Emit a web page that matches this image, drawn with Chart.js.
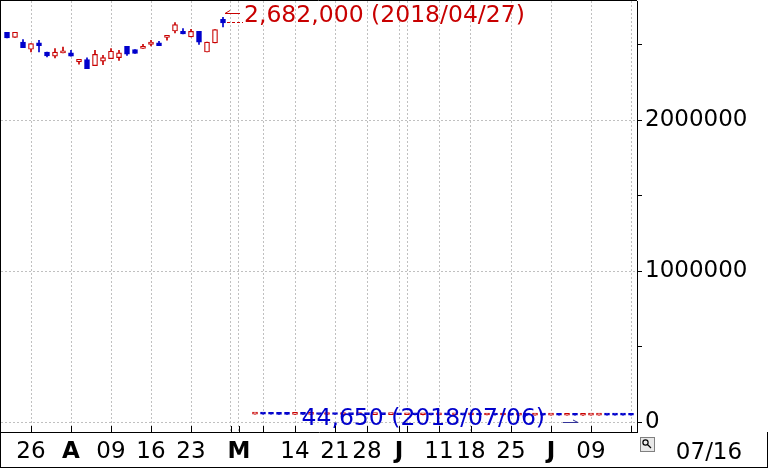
<!DOCTYPE html>
<html>
<head>
<meta charset="utf-8">
<script src="https://cdn.jsdelivr.net/npm/chart.js@4"></script>
<style>
  html, body { margin: 0; padding: 0; background: #fff; }
  #wrap { width: 768px; height: 470px; }
</style>
</head>
<body>
<div id="wrap"><canvas id="myChart" width="768" height="470"></canvas></div>
<script>
// trading-day slot of each candle (gap after 04/27)
const slots = [0, 1, 2, 3, 4, 5, 6, 7, 8, 9, 10, 11, 12, 13, 14, 15, 16, 17, 18, 19, 20, 21, 22, 23, 24, 25, 26, 27,
    31, 32, 33, 34, 35, 36, 37, 38, 39, 40, 41, 42, 43, 44, 45, 46, 47, 48, 49, 50, 51, 52, 53, 54, 55, 56, 57, 58,
    59, 60, 61, 62, 63, 64, 65, 66, 67, 68, 69, 70, 71, 72, 73, 74, 75, 76, 77, 78];

const dates = ['2018/03/20', '2018/03/22', '2018/03/23', '2018/03/26', '2018/03/27', '2018/03/28', '2018/03/29', '2018/03/30',
    '2018/04/02', '2018/04/03', '2018/04/04', '2018/04/05', '2018/04/06', '2018/04/09', '2018/04/10', '2018/04/11',
    '2018/04/12', '2018/04/13', '2018/04/16', '2018/04/17', '2018/04/18', '2018/04/19', '2018/04/20', '2018/04/23',
    '2018/04/24', '2018/04/25', '2018/04/26', '2018/04/27',
    '2018/05/10', '2018/05/11', '2018/05/14', '2018/05/15', '2018/05/16', '2018/05/17', '2018/05/18', '2018/05/21',
    '2018/05/22', '2018/05/23', '2018/05/24', '2018/05/25', '2018/05/28', '2018/05/29', '2018/05/30', '2018/05/31',
    '2018/06/01', '2018/06/04', '2018/06/05', '2018/06/06', '2018/06/07', '2018/06/08', '2018/06/11', '2018/06/12',
    '2018/06/13', '2018/06/14', '2018/06/15', '2018/06/18', '2018/06/19', '2018/06/20', '2018/06/21', '2018/06/22',
    '2018/06/25', '2018/06/26', '2018/06/27', '2018/06/28', '2018/06/29', '2018/07/02', '2018/07/03', '2018/07/04',
    '2018/07/05', '2018/07/06', '2018/07/09', '2018/07/10', '2018/07/11', '2018/07/12', '2018/07/13', '2018/07/16'];

const opens = [2583000, 2549000, 2518000, 2470000, 2512000, 2452000, 2424000, 2446000, 2446000, 2386000,
    2402000, 2362000, 2391000, 2408000, 2415000, 2490000, 2468000, 2475000, 2503000, 2512000,
    2548000, 2591000, 2589000, 2552000, 2589000, 2452000, 2512000, 2669000,
    52500, 53200, 52600, 51800, 51300, 50800, 51400, 50400, 50900, 50000, 50500, 49900, 50300, 49500,
    49800, 49300, 49600, 48800, 49200, 48600, 49000, 48200, 48600, 47800, 48200, 47400, 47800, 47100,
    47500, 46700, 47100, 46400, 46800, 46100, 46500, 45800, 46200, 45500, 45900, 45200, 45600, 45000,
    45300, 45800, 46100, 45800, 45400, 45300];
const highs = [2583000, 2583000, 2534000, 2508000, 2530000, 2452000, 2475000, 2485000, 2463000, 2404000,
    2413000, 2463000, 2430000, 2475000, 2463000, 2490000, 2468000, 2503000, 2530000, 2523000,
    2563000, 2647000, 2607000, 2603000, 2589000, 2518000, 2600000, 2682000,
    53800, 53900, 52900, 52400, 51900, 51700, 51600, 51200, 51100, 50700, 50800, 50600, 50500, 50100,
    50200, 49900, 49800, 49500, 49600, 49300, 49400, 48900, 48800, 48500, 48400, 48100, 48000, 47700,
    47600, 47400, 47300, 47000, 47000, 46700, 46600, 46400, 46300, 46100, 46000, 45800, 45700, 45500,
    46000, 46300, 46400, 46000, 45700, 45600];
const lows = [2545000, 2549000, 2481000, 2452000, 2452000, 2419000, 2413000, 2446000, 2424000, 2371000,
    2342000, 2362000, 2368000, 2408000, 2397000, 2430000, 2442000, 2475000, 2492000, 2494000,
    2530000, 2578000, 2572000, 2552000, 2503000, 2452000, 2512000, 2618000,
    51800, 52300, 51500, 51000, 50600, 50500, 50200, 50100, 49800, 49600, 49700, 49500, 49300, 49000,
    49100, 48800, 48600, 48500, 48400, 48200, 48000, 47800, 47600, 47400, 47200, 47000, 46900, 46700,
    46500, 46400, 46200, 46100, 45900, 45800, 45600, 45500, 45300, 45200, 45000, 44900, 44800, 44650,
    45100, 45500, 45600, 45200, 45000, 44900];
const closes = [2545000, 2583000, 2481000, 2508000, 2494000, 2426000, 2452000, 2459000, 2424000, 2404000,
    2342000, 2437000, 2415000, 2457000, 2446000, 2437000, 2442000, 2490000, 2518000, 2494000,
    2563000, 2633000, 2572000, 2589000, 2518000, 2518000, 2600000, 2644000,
    53200, 52600, 51800, 51300, 50800, 51400, 50400, 50900, 50000, 50500, 49900, 50300, 49500, 49800,
    49300, 49600, 48800, 49200, 48600, 49000, 48200, 48600, 47800, 48200, 47400, 47800, 47100, 47500,
    46700, 47100, 46400, 46800, 46100, 46500, 45800, 46200, 45500, 45900, 45200, 45600, 45000, 45300,
    45800, 46100, 45800, 45400, 45300, 45100];

// x-axis ticks (slot positions) and their labels
const tickSlots = [3, 8, 13, 18, 23, 28, 29, 32, 36, 41, 45, 49, 50, 54, 58, 63, 68, 73, 78];
const tickLabels = ['26', 'A', '09', '16', '23', '', 'M', '', '14', '21', '28', 'J', '', '11', '18', '25', 'J', '09', ''];

// price axis: tick marks every 500000, labels every 1000000
const yTicks = [0, 500000, 1000000, 1500000, 2000000, 2500000];

const RED = '#c80000';
const BLUE = '#0000cc';
const GRID = '#c0c0c0';
const FONT = 'DejaVu Sans';

const isUp = (i) => closes[i] >= opens[i];

const bodyData = slots.map((s, i) => ({ x: s, y: [opens[i], closes[i]] }));
const wickData = slots.map((s, i) => ({ x: s, y: [lows[i], highs[i]] }));

const frame = {
    id: 'frame',
    afterDraw(chart) {
        const ctx = chart.ctx;
        const area = chart.chartArea;
        const xs = chart.scales.x;
        ctx.save();
        ctx.strokeStyle = '#000';
        ctx.lineWidth = 1;
        ctx.beginPath();
        ctx.moveTo(0.5, 0); ctx.lineTo(0.5, 468);
        ctx.moveTo(0, 0.5); ctx.lineTo(area.right, 0.5);
        ctx.moveTo(0, 467.5); ctx.lineTo(768, 467.5);
        ctx.moveTo(767.5, area.bottom); ctx.lineTo(767.5, 468);
        // x tick marks point up into the plot
        xs.ticks.forEach((t) => {
            const px = Math.round(xs.getPixelForValue(t.value)) + 0.5;
            ctx.moveTo(px, area.bottom - 6); ctx.lineTo(px, area.bottom);
        });
        ctx.stroke();

        // last date under the price axis
        ctx.fillStyle = '#000';
        ctx.font = '23px "' + FONT + '"';
        ctx.textAlign = 'center';
        ctx.textBaseline = 'middle';
        ctx.fillText(dates[dates.length - 1].slice(5), 709, 453);

        // small zoom icon
        ctx.fillStyle = '#e8e8e8';
        ctx.fillRect(640.5, 437.5, 14, 14);
        ctx.strokeStyle = '#808080';
        ctx.strokeRect(640.5, 437.5, 14, 14);
        ctx.strokeStyle = '#000';
        ctx.lineWidth = 1.2;
        ctx.beginPath();
        ctx.arc(645.5, 442.5, 2.6, 0, Math.PI * 2);
        ctx.moveTo(647.5, 444.5); ctx.lineTo(651, 448);
        ctx.stroke();
        ctx.restore();
    }
};

const marks = {
    id: 'marks',
    afterDatasetsDraw(chart) {
        const ctx = chart.ctx;
        const xs = chart.scales.x;
        const ys = chart.scales.y;
        let hi = 0, lo = 0;
        highs.forEach((v, i) => { if (v > highs[hi]) hi = i; });
        lows.forEach((v, i) => { if (v < lows[lo]) lo = i; });

        ctx.save();
        ctx.lineWidth = 1;
        ctx.font = '23.5px "' + FONT + '"';
        ctx.textBaseline = 'middle';

        // highest price
        let px = xs.getPixelForValue(slots[hi]);
        let py = Math.round(ys.getPixelForValue(highs[hi]));
        ctx.strokeStyle = RED;
        ctx.beginPath();
        ctx.moveTo(px + 2, py - 3.5); ctx.lineTo(px + 17, py - 3.5);
        ctx.moveTo(px + 2, py - 3.5); ctx.lineTo(px + 7, py - 6.5);
        ctx.stroke();
        ctx.setLineDash([3, 2]);
        ctx.beginPath();
        ctx.moveTo(px + 4, py + 5.5); ctx.lineTo(px + 20, py + 5.5);
        ctx.stroke();
        ctx.setLineDash([]);
        ctx.fillStyle = RED;
        ctx.textAlign = 'left';
        ctx.fillText(highs[hi].toLocaleString('en-US') + ' (' + dates[hi] + ')', px + 21, py - 1);

        // lowest price
        px = xs.getPixelForValue(slots[lo]);
        py = Math.round(ys.getPixelForValue(lows[lo]));
        ctx.strokeStyle = '#333399';
        ctx.beginPath();
        ctx.moveTo(px - 20, py + 7.5); ctx.lineTo(px - 5, py + 7.5);
        ctx.moveTo(px - 5, py + 7.5); ctx.lineTo(px - 10, py + 5);
        ctx.stroke();
        ctx.fillStyle = BLUE;
        ctx.textAlign = 'right';
        ctx.fillText(lows[lo].toLocaleString('en-US') + ' (' + dates[lo] + ')', px - 38, py + 4);
        ctx.restore();
    }
};

new Chart(document.getElementById('myChart'), {
    type: 'bar',
    data: {
        datasets: [{
            data: bodyData,
            grouped: false,
            barThickness: 5,
            minBarLength: 2,
            borderWidth: 1.2,
            borderSkipped: false,
            backgroundColor: (c) => isUp(c.dataIndex) ? '#ffffff' : BLUE,
            borderColor: (c) => isUp(c.dataIndex) ? RED : BLUE
        }, {
            data: wickData,
            grouped: false,
            barThickness: 1,
            minBarLength: 1,
            borderWidth: 0,
            backgroundColor: (c) => isUp(c.dataIndex) ? RED : BLUE
        }]
    },
    options: {
        responsive: false,
        animation: false,
        devicePixelRatio: 1,
        layout: { padding: { left: 1, top: 1, right: 0, bottom: 0 } },
        plugins: { legend: { display: false }, tooltip: { enabled: false } },
        scales: {
            x: {
                type: 'linear',
                bounds: 'data',
                min: -0.75,
                max: 78.75,
                offset: false,
                afterBuildTicks: (scale) => { scale.ticks = tickSlots.map((v) => ({ value: v })); },
                afterFit: (scale) => {
                    scale.height = 38;
                    scale.paddingLeft = 0;
                    scale.paddingRight = 0;
                },
                grid: { offset: false, color: GRID, drawTicks: false },
                border: { color: '#000', width: 1, dash: [2, 2] },
                ticks: {
                    autoSkip: false,
                    maxRotation: 0,
                    padding: 6,
                    color: '#000',
                    font: (c) => {
                        const lab = tickLabels[tickSlots.indexOf(c.tick ? c.tick.value : -1)] || '';
                        return { family: FONT, size: 23, weight: /^[A-Z]$/.test(lab) ? 'bold' : 'normal' };
                    },
                    callback: (v) => tickLabels[tickSlots.indexOf(v)] || ''
                }
            },
            y: {
                position: 'right',
                bounds: 'data',
                min: -66000,
                max: 2790000,
                afterBuildTicks: (scale) => { scale.ticks = yTicks.map((v) => ({ value: v })); },
                afterFit: (scale) => {
                    scale.width = 131;
                    scale.paddingTop = 0;
                    scale.paddingBottom = 0;
                },
                grid: {
                    color: (c) => (c.tick && c.tick.value % 1000000 === 0) ? GRID : 'rgba(0,0,0,0)',
                    tickColor: '#000',
                    tickLength: 5
                },
                border: { color: '#000', width: 1, dash: [2, 2] },
                ticks: {
                    autoSkip: false,
                    padding: 3,
                    color: '#000',
                    font: { family: FONT, size: 23 },
                    callback: (v) => v % 1000000 === 0 ? String(v) : ''
                }
            }
        }
    },
    plugins: [marks, frame]
});
</script>
</body>
</html>
